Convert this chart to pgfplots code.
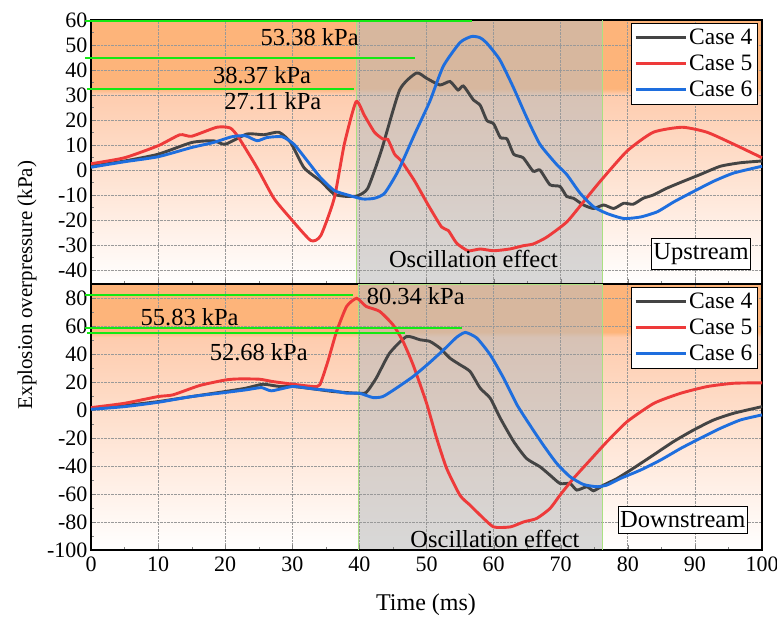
\documentclass[border=0pt]{standalone}
\usepackage{fontspec}
\setmainfont{Liberation Serif}
\usepackage{pgfplots}
\pgfplotsset{compat=1.18}
\usetikzlibrary{calc}

\definecolor{cfour}{RGB}{68,68,68}
\definecolor{cfive}{RGB}{238,58,58}
\definecolor{csix}{RGB}{30,110,222}
\definecolor{bgor}{RGB}{253,180,122}
\definecolor{bgpeach}{RGB}{254,204,174}
\definecolor{oscg}{RGB}{187,187,187}
\definecolor{annc}{RGB}{20,232,20}
\definecolor{edgec}{RGB}{170,225,130}

% white at the bottom, peach below the top band, flat orange band at the top
\pgfdeclareverticalshading{bgtop}{100bp}{color(0bp)=(white); color(25bp)=(white);
  color(61bp)=(bgpeach); color(62bp)=(bgor); color(100bp)=(bgor)}
\pgfdeclareverticalshading{bgbot}{100bp}{color(0bp)=(white); color(25bp)=(white);
  color(65bp)=(bgpeach); color(66bp)=(bgor); color(100bp)=(bgor)}

\tikzset{
  oscband/.style={path picture={
    \fill[oscg, fill opacity=0.57]
      ($(path picture bounding box.south west)!#1!(path picture bounding box.south east)$)
      rectangle
      ($(path picture bounding box.north west)!0.762!(path picture bounding box.north east)$);}},
  tagbox/.style={draw=black, fill=white, line width=0.9pt, inner xsep=2pt, inner ysep=5pt,
    font=\fontsize{24.5}{26}\selectfont},
}

\pgfplotsset{
  panel/.style={
    scale only axis,
    width=671pt,
    xmin=0, xmax=100,
    xtick={0,10,...,100},
    minor x tick num=1,
    minor y tick num=1,
    tick align=inside,
    tick pos=left,
    grid=major,
    grid style={densely dotted, black!40, line width=0.7pt},
    axis line style={line width=1.1pt},
    major tick length=5pt, minor tick length=3pt,
    ticklabel style={font=\fontsize{22}{23}\selectfont},
    xticklabel style={yshift=-3pt},
    /pgf/number format/assume math mode=true,
    clip=false,
    legend cell align=left,
    legend style={at={(rel axis cs:0.994,0.99)}, anchor=north east,
      draw=black, fill=white, line width=1pt,
      font=\fontsize{23.5}{25}\selectfont, inner xsep=3pt, inner ysep=4pt, row sep=5pt},
    legend image code/.code={\draw[#1, line width=2.9pt] (0pt,0pt) -- (50pt,0pt);},
    every axis plot/.append style={line width=2.9pt},
  },
}

\begin{document}
\begin{tikzpicture}
\useasboundingbox (0pt,0pt) rectangle (777pt,619pt);

% ---------------- Upstream ----------------
\begin{axis}[panel,
  at={(91pt,335pt)}, anchor=south west,
  height=264pt,
  ymin=-45.6, ymax=60,
  ytick={-40,-30,...,60},
  xticklabels={},
  axis background/.style={shade, shading=bgtop, oscband=0.395},
]
\draw[edgec, line width=0.7pt] (axis cs:39.5,-45.6) -- (axis cs:39.5,60);
\draw[edgec, line width=0.7pt] (axis cs:76.2,-45.6) -- (axis cs:76.2,60);

\addplot[cfour, smooth, tension=0.35] coordinates {
(0,1.5)(5,3.6)(10,6.3)(15,11.0)(18.25,11.7)(20,10.3)(23.25,14.4)(25.75,14.1)(28,15.1)
(29.75,11)(31.75,0.9)(34.25,-4.5)(36.25,-9.7)(38.25,-10.6)(39.75,-10.3)(41.25,-7.3)
(43.25,7.6)(46,32)(48.5,38.8)(50,36.7)(52,34)(53.5,35.4)(54.7,32)(55.5,33.6)(57,28)
(58,25.9)(59,19.8)(60,18.5)(61,13.0)(62,12.4)(63,6.3)(64.4,4.9)(65.9,-0.5)(66.9,0)
(68.4,-5.9)(69.9,-6.6)(70.9,-10.6)(71.9,-11.3)(73.4,-14)(74.9,-15.4)(76.4,-14)
(77.9,-15.4)(79.4,-13.3)(80.8,-13.7)(82.3,-11.3)(83.8,-10)(85.8,-7.3)(88.3,-4.5)
(90.8,-1.8)(93.8,1.5)(96.8,2.9)(100,3.6)};
\addlegendentry{Case 4}

\addplot[cfive, smooth, tension=0.35] coordinates {
(0,2.5)(5,4.9)(10,9.7)(13.25,14.1)(15,13.5)(18.75,17.1)(20.75,16.8)(22,13.0)
(24.75,0.9)(27.25,-11.3)(29.75,-19.4)(32.75,-28.2)(34.25,-26.2)(36.25,-11.3)
(37.75,10.3)(39.5,27.3)(40.75,21.8)(42.25,15.1)(43.5,12.4)(44.25,12.2)(45.25,6.3)
(46.25,3.6)(48.25,-4.5)(50.25,-14)(52.25,-22.8)(53.25,-24.2)(54.5,-29.3)(56.2,-32.3)
(58,-31.6)(60,-32.3)(62.4,-31.6)(64.4,-30.3)(65.9,-29.6)(67.9,-26.9)(70.9,-20.8)
(73.4,-12.7)(75.9,-4.5)(79.9,7.6)(83.8,15.1)(88.1,17.1)(91.8,15.1)(95.8,10.3)(100,4.9)};
\addlegendentry{Case 5}

\addplot[csix, smooth, tension=0.35] coordinates {
(0,1.1)(5,3.3)(10,5.3)(15,9.0)(18.25,11)(21,13.3)(23,13.7)(24.75,11.7)(26.25,13)
(28.5,13.3)(30.25,10.3)(32.25,3.6)(34.25,-3.2)(36.25,-8.2)(38.25,-10)(40.5,-11.6)
(42.25,-11.3)(43.75,-9.3)(45.75,-0.5)(48.25,14.4)(50.5,27.5)(52.5,41.5)(55,51)
(56.7,53.4)(57.9,53)(58.9,51)(60.9,44.2)(62.9,33.3)(64.9,21.2)(66.9,10.3)(69.4,2.2)
(70.9,-1.8)(72.9,-9.3)(74.9,-14.7)(76.9,-17.4)(79.4,-19.4)(81.9,-18.8)(84.4,-16.7)
(86.9,-12.7)(89.8,-8.6)(92.8,-4.5)(95.8,-1.2)(100,1.5)};
\addlegendentry{Case 6}

\draw[annc, line width=2pt] (axis cs:-0.9,59.6) -- (axis cs:56.8,59.6);
\draw[annc, line width=2pt] (axis cs:-0.9,44.8) -- (axis cs:48.3,44.8);
\draw[annc, line width=2pt] (axis cs:-0.6,32.4) -- (axis cs:39.2,32.4);
\node[font=\fontsize{24.5}{26}\selectfont] at (axis cs:32.6,53.2) {53.38 kPa};
\node[font=\fontsize{24.5}{26}\selectfont] at (axis cs:25.5,37.8) {38.37 kPa};
\node[font=\fontsize{24.5}{26}\selectfont] at (axis cs:27.1,27.6) {27.11 kPa};
\node[font=\fontsize{24.5}{26}\selectfont] at (axis cs:57,-35.4) {Oscillation effect};
\node[tagbox] at (axis cs:90.9,-33.6) {Upstream};
\end{axis}

% ---------------- Downstream ----------------
\begin{axis}[panel,
  at={(91pt,69pt)}, anchor=south west,
  height=266pt,
  ymin=-100, ymax=90,
  ytick={-100,-80,...,80},
  axis background/.style={shade, shading=bgbot, oscband=0.399},
]
\draw[edgec, line width=0.7pt] (axis cs:39.9,-100) -- (axis cs:39.9,89.5) -- (axis cs:76.2,89.5) -- (axis cs:76.2,-100);

\addplot[cfour, smooth, tension=0.35] coordinates {
(0,0.8)(5,3.2)(10,6)(15,9.6)(20,13.2)(23.1,15.6)(25.6,18.4)(28.1,16.8)(30.1,16.8)
(33.1,15.1)(36.1,13.2)(39.6,12)(41,12.5)(42.5,22.7)(44.5,40.6)(47,52.4)(49,50.2)
(50.5,49)(52,44.2)(53.5,37)(55,32.3)(56.5,27.5)(58,15.6)(59.5,8.4)(61,-5.9)(63,-22.6)
(64.9,-34.6)(66.9,-40.5)(68.4,-46.5)(69.9,-52.5)(71.4,-52.5)(72.4,-57.2)(73.9,-54.8)
(74.9,-57.7)(76.4,-53.6)(78.4,-48.9)(80.8,-41.7)(83.8,-32.2)(86.8,-22.6)(89.8,-14.3)
(92.8,-7.1)(95.8,-2.3)(100,2.4)};
\addlegendentry{Case 4}

\addplot[cfive, smooth, tension=0.35] coordinates {
(0,1.7)(5,4.8)(10,9.6)(12.2,10.8)(16.2,17.5)(20.1,21.5)(22.1,22.2)(25.1,22)(27.1,20.3)
(30.1,18.4)(33.1,16.8)(34.1,18)(35.3,34.7)(36.6,56.1)(38.1,74)(39.6,79.8)(41,74)
(43,70.5)(45,60.9)(46.5,49)(48,32.3)(50,5)(51.5,-20)(53,-41.7)(55,-61)(56.5,-68)
(58,-75.1)(60,-83.5)(62.5,-83.5)(64.5,-79.9)(66.4,-77.5)(68.4,-70.4)(69.9,-60.8)
(71.9,-48.9)(74.4,-35.7)(76.9,-22.6)(79.9,-8.3)(83.9,4.8)(87.9,12)(91.9,16.8)
(95.8,19.1)(100,19.4)};
\addlegendentry{Case 5}

\addplot[csix, smooth, tension=0.35] coordinates {
(0,0.5)(5,2.4)(10,5.5)(15,9.6)(20,12.5)(23.1,14.4)(25.4,16)(26.9,13.7)(30.1,16.8)
(33.1,15.1)(36.1,13.7)(38.1,12)(40,12)(42,8.9)(43.5,9.6)(45.5,15.6)(48,23.9)
(50.5,34)(53,45)(54.5,52)(55.8,55.4)(57.5,51.4)(59.5,39.4)(61.5,22.7)(63.5,3.6)
(65.4,-10.7)(67.4,-25)(69.4,-38.1)(71.4,-47.7)(73.4,-53.2)(75.4,-54.8)(76.9,-53.6)
(78.9,-48.9)(81.9,-42.9)(84.9,-35.7)(87.9,-27.4)(90.8,-20.2)(93.8,-13.1)(96.8,-7.1)
(100,-3.5)};
\addlegendentry{Case 6}

\draw[annc, line width=2pt] (axis cs:-0.9,82.1) -- (axis cs:39.0,82.1);
\draw[annc, line width=2pt] (axis cs:-0.9,58.3) -- (axis cs:55.3,58.3);
\draw[annc, line width=2pt] (axis cs:-0.6,54.8) -- (axis cs:46.8,54.8);
\node[font=\fontsize{24.5}{26}\selectfont] at (axis cs:48.4,81.2) {80.34 kPa};
\node[font=\fontsize{24.5}{26}\selectfont] at (axis cs:14.7,66.2) {55.83 kPa};
\node[font=\fontsize{24.5}{26}\selectfont] at (axis cs:25,41.0) {52.68 kPa};
\node[font=\fontsize{24.5}{26}\selectfont] at (axis cs:60.2,-92.2) {Oscillation effect};
\node[tagbox] at (axis cs:88.2,-78.6) {Downstream};
\end{axis}

\node[rotate=90, font=\fontsize{21}{23}\selectfont] at (27pt,334pt) {Explosion overpressure (kPa)};
\node[font=\fontsize{24}{26}\selectfont] at (426pt,14pt) {Time (ms)};
\end{tikzpicture}
\end{document}
